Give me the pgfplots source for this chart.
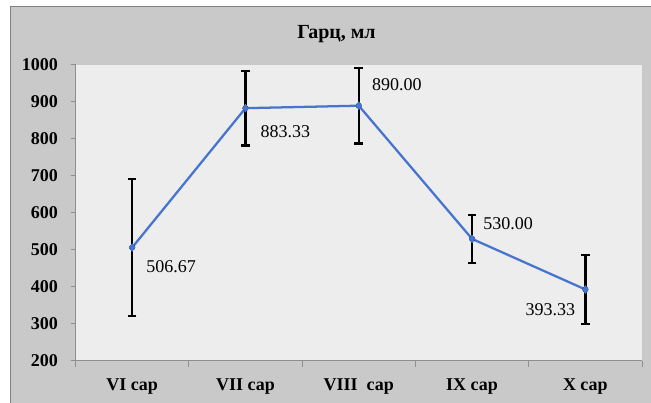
\documentclass[border=0pt]{standalone}
\usepackage{pgfplots}
\pgfplotsset{compat=1.18}
\usepackage{fontspec}
\setmainfont{Liberation Serif}
\definecolor{outerbg}{HTML}{C9C9C9}
\definecolor{plotbg}{HTML}{EDEDED}
\definecolor{framegray}{HTML}{808080}
\definecolor{axisgray}{HTML}{8E8E8E}
\definecolor{lineblue}{HTML}{4674D0}
\begin{document}
\begin{tikzpicture}[x=0.75pt,y=0.75pt]
\useasboundingbox (0,0) rectangle (651,403);
\fill[outerbg] (10.5,0) rectangle (651,396.5);
\draw[framegray, line width=1.1pt] (10.5,-2) -- (10.5,396.5) -- (655,396.5);
\node[font=\fontsize{15}{18}\selectfont\bfseries, anchor=base, inner sep=0pt] at (336.5,364.5) {Гарц, мл};
\begin{axis}[
  at={(56.625pt,31.5pt)}, anchor=south west,
  scale only axis, width=424.9pt, height=222pt,
  xmin=-0.5, xmax=4.5, ymin=200, ymax=1000,
  axis x line*=bottom, axis y line*=left,
  axis line style={axisgray, line width=0.75pt},
  axis background/.style={fill=plotbg},
  tick align=outside,
  xtick={0,1,2,3,4},
  xticklabels={VI сар, VII сар, VIII\ \ сар, IX сар, X сар},
  major x tick style={draw=none},
  minor xtick={-0.5,0.5,1.5,2.5,3.5,4.5},
  minor x tick style={axisgray, line width=0.75pt},
  minor tick length=4.5pt,
  ytick={200,300,...,1000},
  major y tick style={axisgray, line width=0.75pt},
  major tick length=3.75pt,
  tick label style={font=\fontsize{13.5}{16}\selectfont\bfseries},
  /pgf/number format/assume math mode=true,
  /pgf/number format/1000 sep={},
  yticklabel style={xshift=-6pt},
  xticklabel style={yshift=-6pt},
  clip=false,
]
% error bars
\addplot[draw=black, only marks, mark=none, forget plot,
  error bars/.cd, y dir=both, y explicit,
  error bar style={draw=black, line width=1.8pt},
  error mark=|,
  error mark options={draw=black, line width=1.6pt, mark size=3.2pt}]
  coordinates {
  (0,506.67) +- (0,186)
  (1,883.33) +- (0,101)
  (2,890.00) +- (0,102)
  (3,530.00) +- (0,65)
  (4,393.33) +- (0,94)
  };
% line
\addplot[lineblue, line width=1.7pt, mark=diamond*, mark size=2.9pt,
  mark options={fill=lineblue, draw=lineblue, line width=0.4pt}]
  coordinates {(0,506.67) (1,883.33) (2,890.00) (3,530.00) (4,393.33)};
% labels
\pgfplotsset{lbl/.style={draw=none, mark=none, forget plot, nodes near coords,
  point meta=explicit symbolic}}
\addplot[lbl, nodes near coords style={font=\fontsize{13.5}{16}\selectfont, inner sep=0pt, anchor=west, xshift=10.5pt, yshift=-14.6pt}]
  coordinates {(0,506.67) [506.67]};
\addplot[lbl, nodes near coords style={font=\fontsize{13.5}{16}\selectfont, inner sep=0pt, anchor=west, xshift=11.25pt, yshift=-17.25pt}]
  coordinates {(1,883.33) [883.33]};
\addplot[lbl, nodes near coords style={font=\fontsize{13.5}{16}\selectfont, inner sep=0pt, anchor=west, xshift=9.75pt, yshift=16pt}]
  coordinates {(2,890.00) [890.00]};
\addplot[lbl, nodes near coords style={font=\fontsize{13.5}{16}\selectfont, inner sep=0pt, anchor=west, xshift=8.25pt, yshift=11.25pt}]
  coordinates {(3,530.00) [530.00]};
\addplot[lbl, nodes near coords style={font=\fontsize{13.5}{16}\selectfont, inner sep=0pt, anchor=east, xshift=-7.5pt, yshift=-15.4pt}]
  coordinates {(4,393.33) [393.33]};
\end{axis}
\end{tikzpicture}
\end{document}
